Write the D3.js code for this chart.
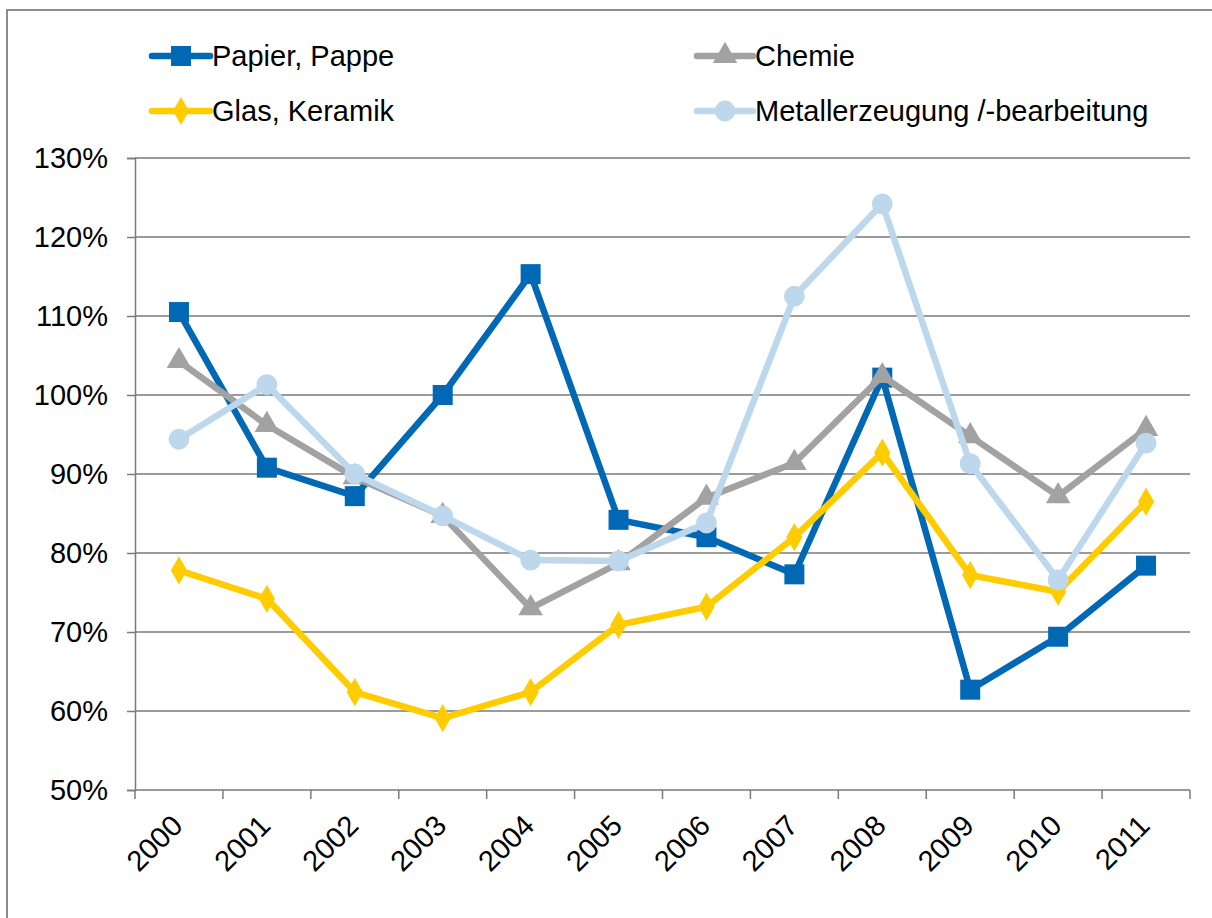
<!DOCTYPE html>
<html>
<head>
<meta charset="utf-8">
<script src="https://cdn.jsdelivr.net/npm/d3@7"></script>
<style>
  body { margin: 0; background: #fff; }
  svg { display: block; font-family: "Liberation Sans", Arial, sans-serif; }
</style>
</head>
<body>
<svg id="chart" width="1212" height="918"></svg>
<script>
// Years on the x axis
const years = ["2000","2001","2002","2003","2004","2005","2006","2007","2008","2009","2010","2011"];

// Index values per industry, in percent
const papier = [110.5, 90.8, 87.2, 100.0, 115.3, 84.2, 82.0, 77.3, 102.2, 62.7, 69.4, 78.4];
const chemie = [104.3, 96.2, 89.6, 84.7, 73.0, 78.7, 87.0, 91.4, 102.4, 94.8, 87.2, 95.7];
const glas   = [77.8, 74.2, 62.4, 59.1, 62.4, 70.9, 73.2, 82.0, 92.7, 77.2, 75.1, 86.5];
const metall = [94.4, 101.3, 90.0, 84.7, 79.1, 79.0, 83.8, 112.5, 124.2, 91.3, 76.6, 93.9];

// Y axis ticks
const yTicks = [50, 60, 70, 80, 90, 100, 110, 120, 130];

const series = [
  { name: "Papier, Pappe", values: papier, color: "#0068B4", symbol: "square" },
  { name: "Chemie", values: chemie, color: "#A2A2A2", symbol: "triangle" },
  { name: "Glas, Keramik", values: glas, color: "#FFCC00", symbol: "diamond" },
  { name: "Metallerzeugung /-bearbeitung", values: metall, color: "#BDD7EC", symbol: "circle" }
];

const fontSize = 29;
const svg = d3.select("#chart");

// Outer frame (only top and left edges fall inside the page)
svg.append("rect")
  .attr("x", 7).attr("y", 10)
  .attr("width", 1240).attr("height", 940)
  .attr("fill", "none").attr("stroke", "#8c8c8c").attr("stroke-width", 2);

const plot = { left: 135, right: 1190, top: 158, bottom: 790 };

const x = d3.scaleBand().domain(years).range([plot.left, plot.right]).padding(0);
const y = d3.scaleLinear().domain([50, 130]).range([plot.bottom, plot.top]);
const cx = d => x(d) + x.bandwidth() / 2;

const gridColor = "#7a7a7a";

// Horizontal gridlines
svg.append("g")
  .selectAll("line")
  .data(yTicks.filter(t => t > 50))
  .join("line")
  .attr("x1", plot.left).attr("x2", plot.right)
  .attr("y1", d => y(d)).attr("y2", d => y(d))
  .attr("stroke", gridColor).attr("stroke-width", 1.5);

// Y axis
const yAxis = svg.append("g")
  .attr("transform", `translate(${plot.left},0)`)
  .call(d3.axisLeft(y).tickValues(yTicks).tickSize(8).tickPadding(19)
    .tickFormat(d => d + "%"));
yAxis.select(".domain").attr("stroke", gridColor).attr("stroke-width", 1.5);
yAxis.selectAll(".tick line").attr("stroke", gridColor).attr("stroke-width", 1.5);
yAxis.selectAll("text")
  .attr("font-size", fontSize).attr("fill", "#000")
  .attr("font-family", "Liberation Sans, Arial, sans-serif");

// X axis with ticks at category boundaries
const xAxisG = svg.append("g").attr("transform", `translate(0,${plot.bottom})`);
xAxisG.append("line")
  .attr("x1", plot.left).attr("x2", plot.right)
  .attr("stroke", gridColor).attr("stroke-width", 1.5);
const bounds = years.map(d => x(d)).concat([plot.right]);
xAxisG.selectAll("line.tk")
  .data(bounds)
  .join("line").attr("class", "tk")
  .attr("x1", d => d).attr("x2", d => d)
  .attr("y1", 0).attr("y2", 9)
  .attr("stroke", gridColor).attr("stroke-width", 1.5);
xAxisG.selectAll("text")
  .data(years)
  .join("text")
  .attr("transform", d => `translate(${cx(d) - 9},${23}) rotate(-45)`)
  .attr("text-anchor", "end")
  .attr("dy", "0.7em")
  .attr("font-size", fontSize)
  .attr("fill", "#000")
  .text(d => d);

// Marker shapes
const symbolSize = { square: 400, triangle: 260, diamond: 230, circle: 340 };
function symbolPath(kind) {
  const t = { square: d3.symbolSquare, triangle: d3.symbolTriangle, diamond: d3.symbolDiamond, circle: d3.symbolCircle }[kind];
  return d3.symbol().type(t).size(symbolSize[kind])();
}

const line = d3.line().x((d, i) => cx(years[i])).y(d => y(d));

series.forEach(s => {
  const g = svg.append("g");
  g.append("path")
    .attr("d", line(s.values))
    .attr("fill", "none")
    .attr("stroke", s.color)
    .attr("stroke-width", 6.5)
    .attr("stroke-linejoin", "round")
    .attr("stroke-linecap", "round");
  g.selectAll("path.mk")
    .data(s.values)
    .join("path").attr("class", "mk")
    .attr("d", symbolPath(s.symbol))
    .attr("transform", (d, i) => `translate(${cx(years[i])},${y(d)})`)
    .attr("fill", s.color);
});

// Legend in two columns
const legendPos = [
  { lx: 152, ly: 56 }, { lx: 697, ly: 56 },
  { lx: 152, ly: 111 }, { lx: 697, ly: 111 }
];
series.forEach((s, i) => {
  const p = legendPos[i];
  const len = i % 2 === 0 ? 58 : 56;
  const g = svg.append("g");
  g.append("line")
    .attr("x1", p.lx).attr("x2", p.lx + len)
    .attr("y1", p.ly).attr("y2", p.ly)
    .attr("stroke", s.color).attr("stroke-width", 6.5).attr("stroke-linecap", "round");
  g.append("path")
    .attr("d", symbolPath(s.symbol))
    .attr("transform", `translate(${p.lx + len / 2},${p.ly})`)
    .attr("fill", s.color);
  g.append("text")
    .attr("x", p.lx + len + 2).attr("y", p.ly)
    .attr("dy", "0.35em")
    .attr("font-size", fontSize).attr("fill", "#000")
    .text(s.name);
});
</script>
</body>
</html>
